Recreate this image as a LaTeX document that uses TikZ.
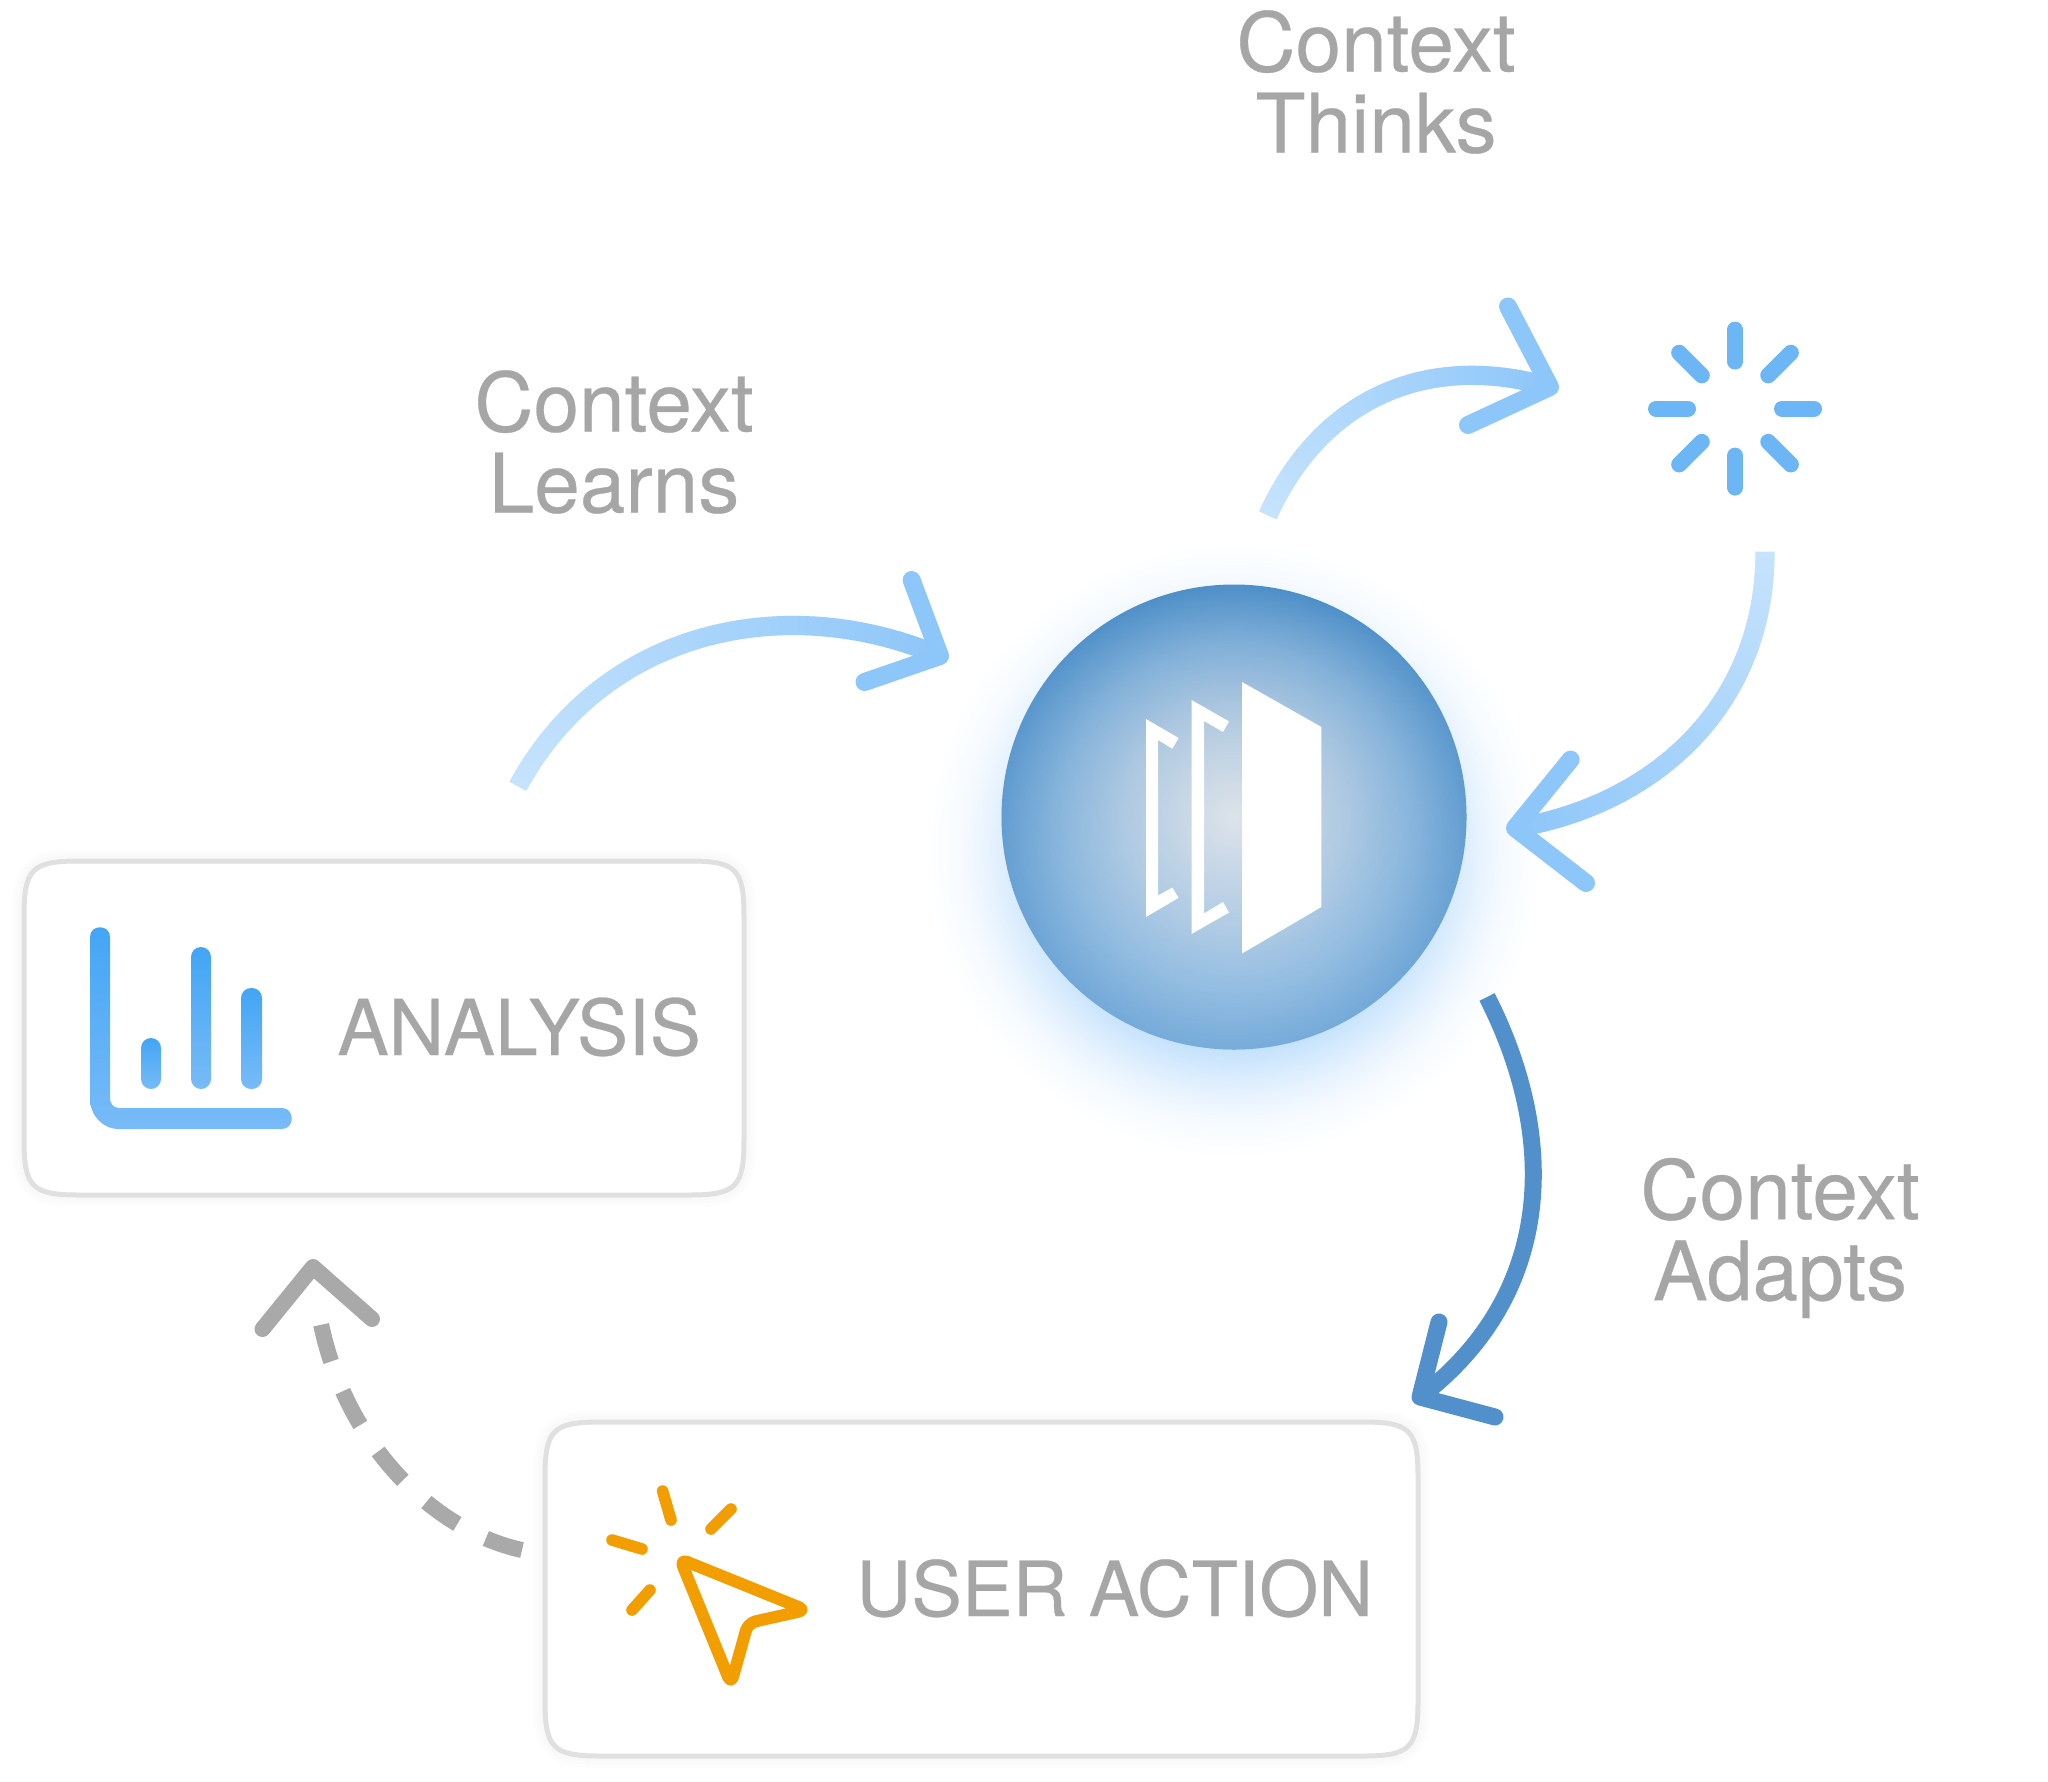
\documentclass[tikz,border=0pt]{standalone}
\usepackage{fontspec}
\setmainfont[FakeBold=0.35]{TeX Gyre Heros}
\usetikzlibrary{decorations.markings,fadings,calc}
\definecolor{txt}{HTML}{A6A6A6}
\definecolor{paneledge}{HTML}{E0E0E0}
\definecolor{arrowlight}{HTML}{C6E3FC}
\definecolor{arrowmid}{HTML}{8DC6F9}
\definecolor{arrowdark}{HTML}{5190CB}
\definecolor{greyarrow}{HTML}{A9A9A9}
\definecolor{spin}{HTML}{6DB6F6}
\definecolor{bartop}{HTML}{42A5F5}
\definecolor{barbot}{HTML}{78BBF7}
\definecolor{cursor}{HTML}{F29D00}
\definecolor{huba}{HTML}{E3E4E6}
\definecolor{hubb}{HTML}{A9C4DD}
\definecolor{hubc}{HTML}{7FAED7}
\definecolor{hubd}{HTML}{4E8FC8}
\definecolor{glowa}{HTML}{C5E2FC}
\definecolor{glowb}{HTML}{D9ECFD}
\definecolor{glowc}{HTML}{EAF4FE}
\definecolor{glowd}{HTML}{F7FBFF}
\pgfdeclareradialshading{hubshade}{\pgfpoint{0bp}{0bp}}{color(0bp)=(huba);color(12bp)=(hubb);color(18.5bp)=(hubc);color(25bp)=(hubd);color(50bp)=(hubd)}
\pgfdeclareradialshading{glowshade}{\pgfpoint{0bp}{0bp}}{color(0bp)=(glowa);color(15.9bp)=(glowa);color(17.9bp)=(glowb);color(19.8bp)=(glowc);color(21.8bp)=(glowd);color(24.5bp)=(white);color(50bp)=(white)}
\tikzfading[name=hubbottom,top color=transparent!100,middle color=transparent!100,bottom color=transparent!65]
\newcommand{\squirclepath}[1]{%
 ($(#1.north west)+(0,55)$) .. controls ($(#1.north west)+(0,8)$) and ($(#1.north west)+(8,0)$) .. ($(#1.north west)+(55,0)$)
 -- ($(#1.north east)+(-55,0)$) .. controls ($(#1.north east)+(-8,0)$) and ($(#1.north east)+(0,8)$) .. ($(#1.north east)+(0,55)$)
 -- ($(#1.south east)+(0,-55)$) .. controls ($(#1.south east)+(0,-8)$) and ($(#1.south east)+(-8,0)$) .. ($(#1.south east)+(-55,0)$)
 -- ($(#1.south west)+(55,0)$) .. controls ($(#1.south west)+(8,0)$) and ($(#1.south west)+(0,-8)$) .. ($(#1.south west)+(0,-55)$) -- cycle}
\tikzset{
 labeltext/.style={text=txt,align=center,inner sep=0pt,font=\fontsize{41}{40.5}\selectfont},
 boxtext/.style={text=txt,inner sep=0pt,anchor=base west,font=\fontsize{38.5}{40}\selectfont},
 panel/.style={inner sep=0pt,outer sep=0pt},
 panelline/.style={draw=paneledge,line width=2.5pt,fill=white},
 panelshade/.style={draw=black,line width=#1,opacity=0.007},
 gradstroke/.style n args={3}{postaction={decorate,decoration={markings,
   mark=between positions 0 and 1 step 1.2pt with {
    \pgfmathsetmacro\gm{100*(\pgfkeysvalueof{/pgf/decoration/mark info/distance from start}/\pgfdecoratedpathlength)}
    \fill[color=#2!\gm!#1] (-0.2pt,-#3/2) rectangle (1.5pt,#3/2);}}}},
 headline/.style={draw=#1,line width=9pt,line cap=round,line join=round},
 spoke/.style={draw=spin,line width=8pt,line cap=round},
 ray/.style={draw=cursor,line width=5.8pt,line cap=round},
 mark white/.style={fill=white}
}
\begin{document}
\begin{tikzpicture}[x=0.5pt,y=-0.5pt]
\useasboundingbox (0,0) rectangle (2048,1781);
% glow and hub
\shade[shading=glowshade] (1234,850) circle (315);
\node[circle,minimum size=232.5pt,inner sep=0pt,shading=hubshade] (hub) at (1234,817) {};
\fill[color=glowa,path fading=hubbottom] (hub.center) circle (232.5);
\fill[mark white] (1242,682) -- (1321.4,727) -- (1321.4,907) -- (1242,953.5) -- cycle;
\fill[mark white] (1191.5,700) -- (1229,721.4) -- (1223,732) -- (1204,721) -- (1204,913.4) -- (1223,902) -- (1229,912.5) -- (1191.5,934) -- cycle;
\fill[mark white] (1146,719) -- (1178.6,738) -- (1172.3,748.7) -- (1158,740) -- (1158,895.5) -- (1172.3,887.5) -- (1178.6,897.8) -- (1146,917) -- cycle;
% panels
\node[panel,minimum width=360pt,minimum height=167pt] (analysis) at (384,1028) {};
\node[panel,minimum width=436.5pt,minimum height=167pt] (useraction) at (981.5,1589) {};
\foreach \w in {12pt,9pt,6pt}{
 \begin{scope}[yshift=-3pt]
 \draw[panelshade=\w] \squirclepath{analysis};
 \draw[panelshade=\w] \squirclepath{useraction};
 \end{scope}}
\path[panelline] \squirclepath{analysis};
\path[panelline] \squirclepath{useraction};
% analysis icon
\shade[top color=bartop,bottom color=barbot] (90,937) .. controls (90,924) and (110,924) .. (110,937) -- (110,1098) .. controls (110,1103) and (113,1108) .. (119,1108) -- (282,1108) .. controls (295,1108) and (295,1129) .. (282,1129) -- (119,1129) .. controls (102,1129) and (90,1115) .. (90,1098) -- cycle;
\shade[top color=bartop,bottom color=barbot,rounded corners=5pt] (141,1038) rectangle (161,1089);
\shade[top color=bartop,bottom color=barbot,rounded corners=5pt] (191,947) rectangle (211,1089);
\shade[top color=bartop,bottom color=barbot,rounded corners=5pt] (241,988) rectangle (262,1089);
\node[boxtext] (analysistext) at (337,1055) {ANALYSIS};
% cursor icon
\draw[draw=cursor,line width=6pt,line join=round,rounded corners=4pt] (680,1559) -- (806,1610) -- (748,1623) -- (731,1684) -- cycle;
\draw[ray] (662.6,1491) -- (671,1520);
\draw[ray] (731,1509) -- (711,1529);
\draw[ray] (612,1540) -- (642,1549);
\draw[ray] (650,1590) -- (632,1610);
\node[boxtext,font=\fontsize{38}{40}\selectfont] (actiontext) at (856,1616) {USER ACTION};
% spinner
\coordinate (spinner) at (1735,408.6);
\foreach \a in {0,45,...,315}{\draw[spoke] ($(spinner)+(\a:47)$) -- ($(spinner)+(\a:79)$);}
% arrows
\coordinate (a1s) at (518,786); \coordinate (a1t) at (940,656);
\coordinate (a1u) at (911.6,580); \coordinate (a1v) at (864.5,682);
\path[gradstroke={arrowlight}{arrowmid}{9.6pt}] (a1s) .. controls (603,630) and (785,590) .. (a1t);
\draw[headline=arrowmid] (a1u) -- (a1t) -- (a1v);
\coordinate (a2s) at (1268,515); \coordinate (a2t) at (1550,387);
\coordinate (a2u) at (1508,306.5); \coordinate (a2v) at (1468,425);
\path[gradstroke={arrowlight}{arrowmid}{9.6pt}] (a2s) .. controls (1322,396) and (1430,352) .. (a2t);
\draw[headline=arrowmid] (a2u) -- (a2t) -- (a2v);
\coordinate (a3s) at (1765,552); \coordinate (a3t) at (1515,828);
\coordinate (a3u) at (1570.6,759.6); \coordinate (a3v) at (1586,883);
\path[gradstroke={arrowlight}{arrowmid}{9.6pt}] (a3s) .. controls (1765,705) and (1655,805) .. (a3t);
\draw[headline=arrowmid] (a3u) -- (a3t) -- (a3v);
\coordinate (a4s) at (1487,997); \coordinate (a4t) at (1420,1397);
\coordinate (a4u) at (1439,1322); \coordinate (a4v) at (1495,1417);
\draw[draw=arrowdark,line width=8.5pt] (a4s) .. controls (1555,1130) and (1560,1290) .. (a4t);
\draw[headline=arrowdark,line width=8.5pt] (a4u) -- (a4t) -- (a4v);
\coordinate (a5s) at (522,1550); \coordinate (a5e) at (321,1324); \coordinate (a5t) at (313,1267);
\coordinate (a5u) at (262.5,1329); \coordinate (a5v) at (372,1319);
\draw[draw=greyarrow,line width=8pt,dash pattern=on 19pt off 16pt] (a5s) .. controls (430,1530) and (345,1440) .. (a5e);
\draw[headline=greyarrow,line width=8pt] (a5u) -- (a5t) -- (a5v);
% labels
\node[labeltext] (thinks) at (1376,82) {Context\\Thinks};
\node[labeltext] (learns) at (614,442) {Context\\Learns};
\node[labeltext] (adapts) at (1780,1238) {Context\\Adapts};
\end{tikzpicture}
\end{document}
